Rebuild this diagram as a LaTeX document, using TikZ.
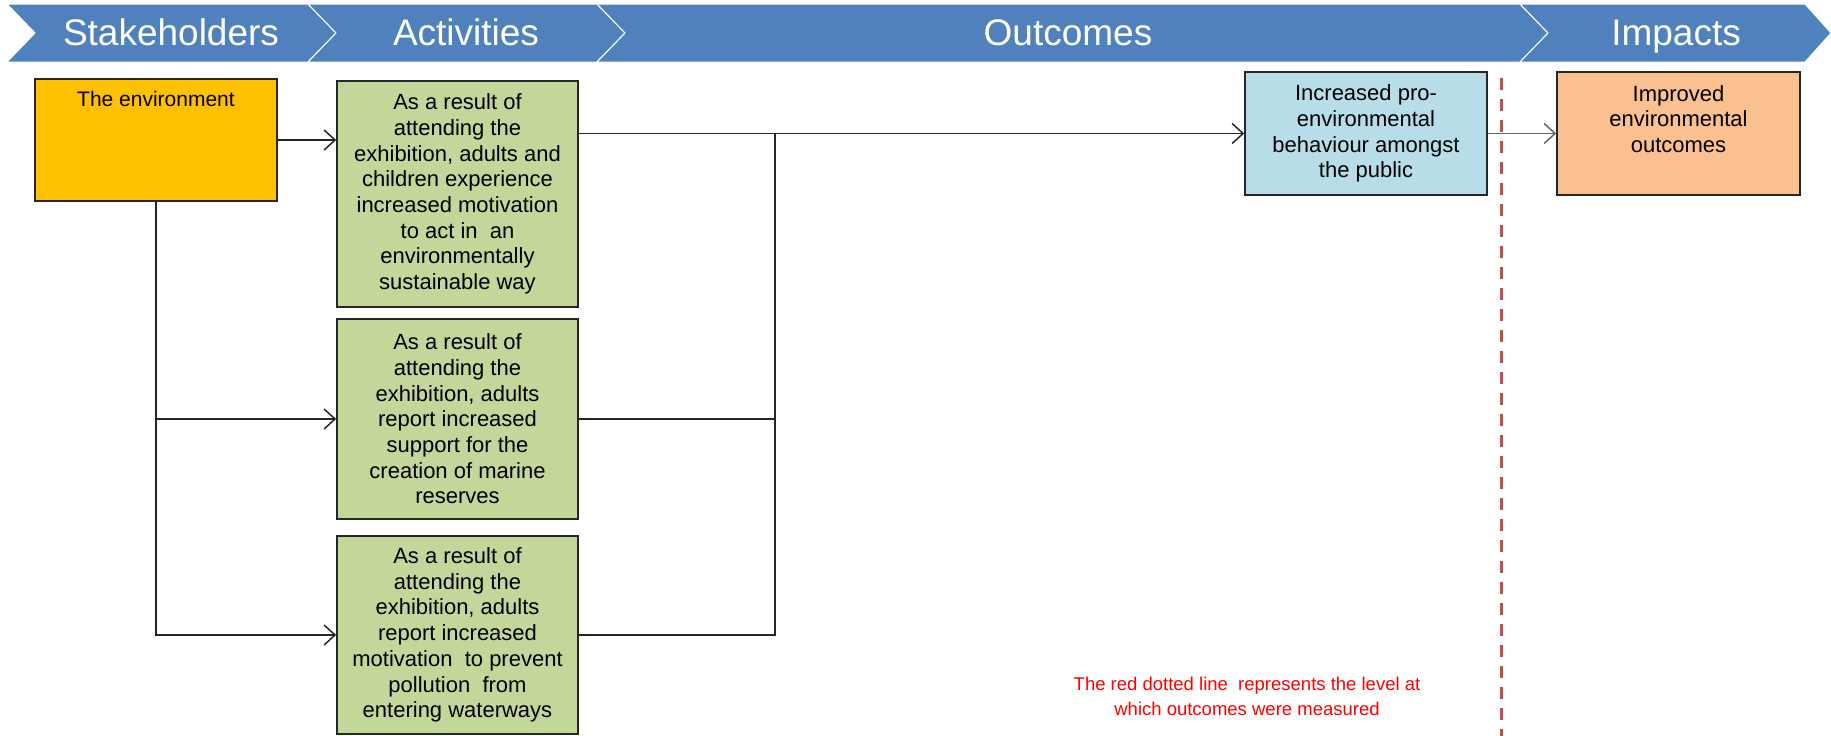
\documentclass[tikz,border=0pt]{standalone}
\usepackage{fontspec}
\setmainfont{Liberation Sans}
\usetikzlibrary{arrows.meta,positioning}
\definecolor{bannerblue}{HTML}{4F81BD}
\definecolor{envorange}{HTML}{FFC000}
\definecolor{actgreen}{HTML}{C4D79B}
\definecolor{outblue}{HTML}{B7DEE8}
\definecolor{imppeach}{HTML}{FAC090}
\definecolor{measurered}{HTML}{C0504D}
\tikzset{
  chev/.style={fill=bannerblue, draw=white, line width=1pt},
  bannertext/.style={text=white, anchor=base, font=\fontsize{37}{40}\selectfont},
  box/.style={draw=black!85, line width=1.6pt, minimum width=242, inner sep=0pt,
    align=center, font=\fontsize{22}{25.7}\selectfont},
  boxtext/.style={inner sep=0pt, align=center, font=\fontsize{22}{25.7}\selectfont},
  link/.style={draw=black!85, line width=1.5pt},
  arr/.style={link, -{Straight Barb[length=11pt,width=20pt,line width=1.5pt]}},
}
\begin{document}
\begin{tikzpicture}[x=1pt,y=-1pt]
  \useasboundingbox (0,0) rectangle (1831,736);
  % banner
  \draw[chev] (7,4) -- (308,4) -- (336,33) -- (308,62) -- (7,62) -- (35,33) -- cycle;
  \draw[chev] (308,4) -- (597,4) -- (625,33) -- (597,62) -- (308,62) -- (336,33) -- cycle;
  \draw[chev] (597,4) -- (1520,4) -- (1548,33) -- (1520,62) -- (597,62) -- (625,33) -- cycle;
  \draw[chev] (1520,4) -- (1805,4) -- (1831,33) -- (1805,62) -- (1520,62) -- (1548,33) -- cycle;
  \node[bannertext] (stake) at (171,45) {Stakeholders};
  \node[bannertext] (activ) at (466,45) {Activities};
  \node[bannertext] (outc) at (1068,45) {Outcomes};
  \node[bannertext] (impc) at (1676,45) {Impacts};

  % boxes
  \node[box, fill=envorange, minimum height=122] (env) at (156,140) {};
  \node[boxtext, anchor=base, font=\fontsize{21}{25.7}\selectfont] (envtxt) at (156,106) {The environment};
  \node[box, fill=actgreen, minimum width=241, minimum height=226] (act1) at (457.5,194)
    {As a result of\\attending the\\exhibition, adults and\\children experience\\increased motivation\\to act in\ \ an\\environmentally\\sustainable way};
  \node[box, fill=actgreen, minimum width=241, minimum height=200] (act2) at (457.5,419)
    {As a result of\\attending the\\exhibition, adults\\report increased\\support for the\\creation of marine\\reserves};
  \node[box, fill=actgreen, minimum width=241, minimum height=198] (act3) at (457.5,635)
    {As a result of\\attending the\\exhibition, adults\\report increased\\motivation\ \ to prevent\\pollution\ \ from\\entering waterways};
  \node[box, fill=outblue, minimum height=123] (out) at (1366,133.5)
    {Increased pro-\\environmental\\behaviour amongst\\the public};
  \node[box, fill=imppeach, minimum width=243, minimum height=123] (imp) at (1678.5,133.5) {};
  \node[boxtext, anchor=north] (imptxt) at (1678.5,85) {Improved\\environmental\\outcomes};

  % connectors
  \coordinate (junc) at (775,133.5);
  \draw[arr] (env) -- (env -| act1.west);
  \draw[arr] (env.south) |- (act2.west);
  \draw[arr] (env.south) |- (act3.west);
  \draw[arr] (act1.east |- out.west) -- (out.west);
  \draw[link] (act2.east) -| (junc);
  \draw[link] (act3.east) -| (junc);
  \draw[arr, draw=black!60] (out.east) -- (imp.west);

  % measurement level
  \draw[measurered, line width=3pt, dash pattern=on 12pt off 9pt] (1501,78) -- (1501,736);
  \node[text=red, align=center, font=\fontsize{18.5}{25}\selectfont] (note) at (1247,696)
    {The red dotted line\ \ represents the level at\\which outcomes were measured};
\end{tikzpicture}
\end{document}
